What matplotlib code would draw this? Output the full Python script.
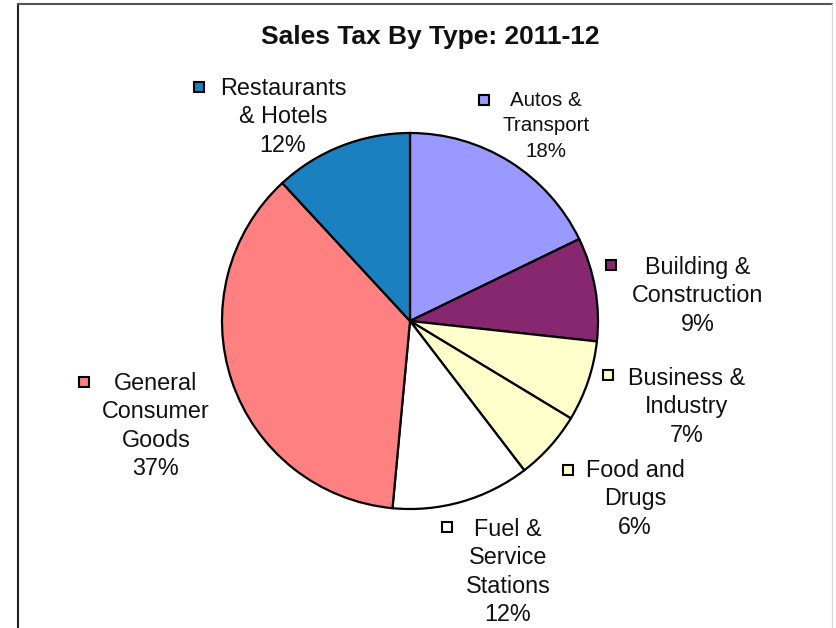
import matplotlib
matplotlib.use("Agg")
import matplotlib.pyplot as plt
from matplotlib.lines import Line2D

plt.rcParams['font.family'] = ['Liberation Sans', 'DejaVu Sans']

# Sales tax shares by type, clockwise from 12 o'clock
categories = ["Autos &\nTransport", "Building &\nConstruction", "Business &\nIndustry",
              "Food and\nDrugs", "Fuel &\nService\nStations", "General\nConsumer\nGoods",
              "Restaurants\n& Hotels"]
shares = [18, 9, 7, 6, 12, 37, 12]
colors = ["#9999ff", "#86276f", "#ffffcc", "#ffffcc", "#ffffff", "#ff8080", "#1a80bf"]
title = "Sales Tax By Type: 2011-12"

W, H = 837, 628
fig = plt.figure(figsize=(W / 100, H / 100), dpi=100)
ax = fig.add_axes([0, 0, 1, 1])

center = (410, H - 321)
radius = 188
ax.pie(shares, colors=colors, startangle=90, counterclock=False,
       center=center, radius=radius,
       wedgeprops=dict(edgecolor="black", linewidth=1.6))
ax.set_xlim(0, W)
ax.set_ylim(0, H)
ax.set_aspect("equal")
ax.axis("off")

# label layout: (marker x, marker y, text x, text y, font size, line spacing) in pixels from top-left
layout = [
    (484, 100, 546, 126, 14.8, 1.42),
    (611, 265, 698, 296, 16.8, 1.3),
    (608, 375, 687, 407, 16.8, 1.3),
    (568, 470, 635, 499, 16.8, 1.3),
    (447, 527, 508, 572, 16.8, 1.3),
    (84, 382, 156, 426, 16.8, 1.3),
    (199, 87, 283, 117, 16.8, 1.3),
]
for name, val, col, (mx, my, tx, ty, fs, ls) in zip(categories, shares, colors, layout):
    ax.plot([mx], [H - my], marker="s", markersize=7.2, markerfacecolor=col,
            markeredgecolor="black", markeredgewidth=1.5, linestyle="none")
    ax.text(tx, H - ty, f"{name}\n{val}%", ha="center", va="center",
            multialignment="center", fontsize=fs, linespacing=ls, color="#111111")

ax.text(430, H - 37, title, ha="center", va="center", fontsize=19,
        fontweight="bold", color="#111111")

# chart frame
fig.add_artist(Line2D([18 / W, 18 / W], [0, 1 - 4 / H], color="#222222", lw=1.5))
fig.add_artist(Line2D([18 / W, 832 / W], [1 - 4 / H, 1 - 4 / H], color="#555555", lw=1.5))
fig.add_artist(Line2D([832 / W, 832 / W], [0, 1 - 4 / H], color="#d8d8d8", lw=1.0))

fig.savefig("out.png", dpi=100, facecolor="white")
